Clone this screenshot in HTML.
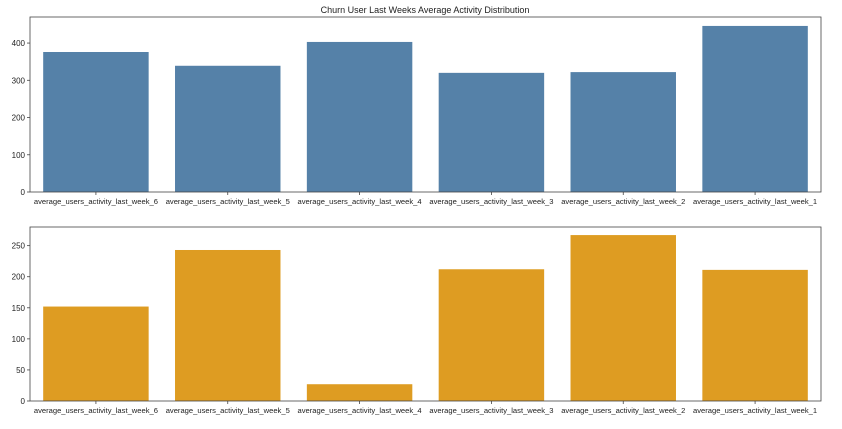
<!DOCTYPE html>
<html><head><meta charset="utf-8"><style>
body{margin:0;background:#fff;width:842px;height:424px;overflow:hidden;font-family:"Liberation Sans","DejaVu Sans",sans-serif}
svg text{font-family:"Liberation Sans","DejaVu Sans",sans-serif;fill:#222}
</style></head><body>
<svg id="chart" width="842" height="424"></svg>
<script>
const categories=["average_users_activity_last_week_6","average_users_activity_last_week_5","average_users_activity_last_week_4","average_users_activity_last_week_3","average_users_activity_last_week_2","average_users_activity_last_week_1"];
const topValues=[376,339,403,320,322,446];
const bottomValues=[152,243,27,212,267,211];
const topTicks=[0,100,200,300,400];
const bottomTicks=[0,50,100,150,200,250];
const NS="http://www.w3.org/2000/svg";
const svg=document.getElementById('chart');
function mk(t,a,p){const e=document.createElementNS(NS,t);for(const k in a)e.setAttribute(k,a[k]);(p||svg).appendChild(e);return e;}
function panel(name,vals,ticks,yMax,top,bottom,color){
  const L=30,R=821;
  const g=mk('g',{});
  
  
  const y=v=>bottom-(v/yMax)*(bottom-top);
  const slot=(R-L)/categories.length;
  const x=i=>L+slot*i+slot/2;
  vals.forEach((v,i)=>{
    const r=mk('rect',{x:x(i)-slot*0.4,y:y(v),width:slot*0.8,height:bottom-y(v),fill:color},g);
    
    
  });
  const ax=mk('rect',{x:L,y:top,width:R-L,height:bottom-top,fill:'none',stroke:'#444','stroke-width':0.8},g);
  
  
  ticks.forEach(t=>{
    mk('line',{x1:L-3,x2:L,y1:y(t),y2:y(t),stroke:'#444','stroke-width':0.8},g);
    const tx=mk('text',{x:L-5,y:y(t)+3,'font-size':8,'text-anchor':'end'},g);
    tx.textContent=t;
    
    
  });
  categories.forEach((c,i)=>{
    mk('line',{x1:x(i),x2:x(i),y1:bottom,y2:bottom+3,stroke:'#444','stroke-width':0.8},g);
    const tx=mk('text',{x:x(i),y:bottom+12,'font-size':7.6,'text-anchor':'middle'},g);
    tx.textContent=c;
    
    
  });
}
const title=mk('text',{x:425,y:13,'font-size':9,'text-anchor':'middle'});
title.textContent="Churn User Last Weeks Average Activity Distribution";


panel('top-panel',topValues,topTicks,470,17,192,'#5581a8');
panel('bottom-panel',bottomValues,bottomTicks,280,227,401,'#de9c22');
</script>
</body></html>
